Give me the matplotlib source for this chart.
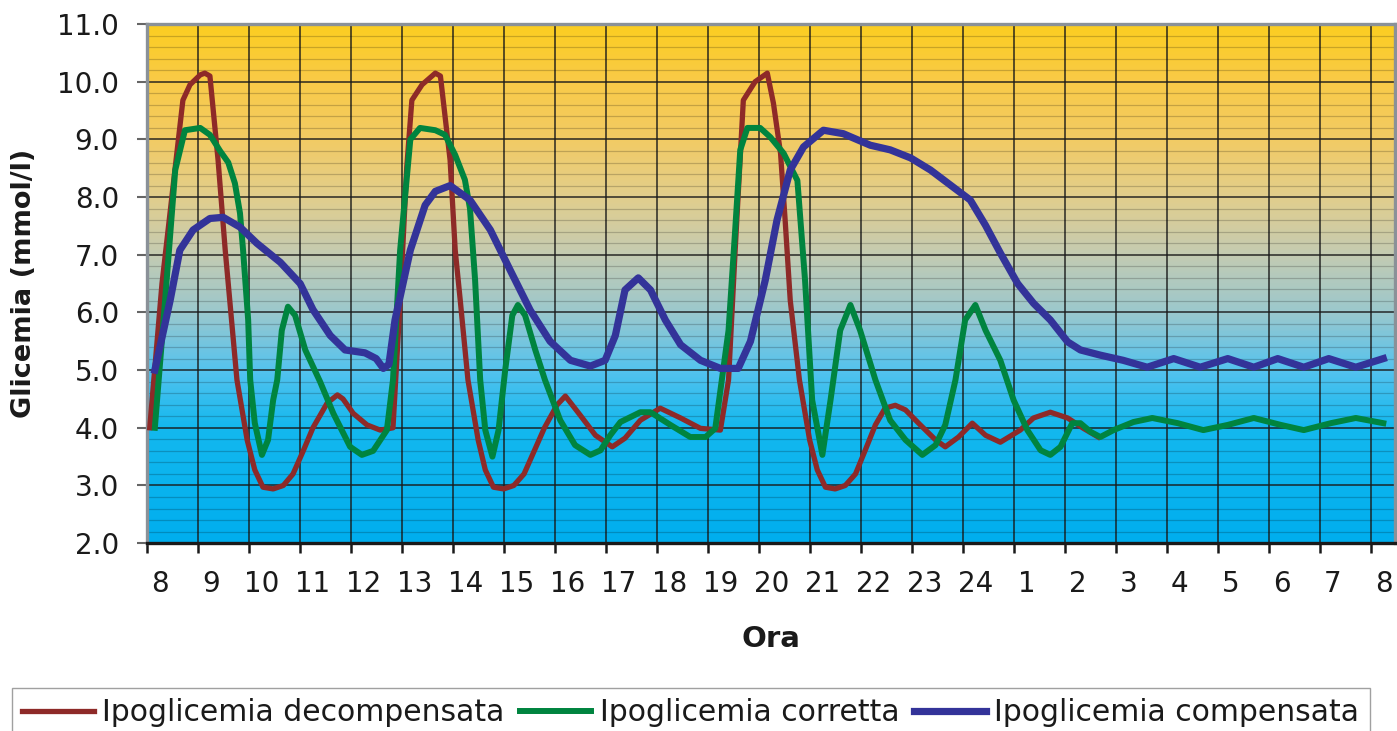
import numpy as np
import matplotlib
matplotlib.use('Agg')
import matplotlib.pyplot as plt
from matplotlib.colors import LinearSegmentedColormap
from matplotlib.ticker import MultipleLocator

# etichette dell'asse orario (dalle 8 alle 8 del giorno dopo)
ore = ['8', '9', '10', '11', '12', '13', '14', '15', '16', '17', '18', '19', '20',
       '21', '22', '23', '24', '1', '2', '3', '4', '5', '6', '7', '8']

# ore trascorse dalle 8:00 e glicemia (mmol/l)
decomp_h = [0.06, 0.30, 0.56, 0.71, 0.85, 1.05, 1.14, 1.24, 1.40, 1.54, 1.63, 1.77, 1.97,
            2.12, 2.28, 2.48, 2.68, 2.87, 3.07, 3.26, 3.54, 3.74, 3.85, 4.05, 4.32, 4.58,
            4.83, 4.97, 5.10, 5.20, 5.40, 5.66, 5.76, 5.95, 6.05, 6.15, 6.30, 6.50, 6.64,
            6.80, 7.00, 7.20, 7.40, 7.60, 7.80, 8.05, 8.21, 8.50, 8.80, 9.13, 9.38, 9.68,
            10.07, 10.47, 10.86, 11.25, 11.41, 11.54, 11.70, 11.93, 12.17, 12.29, 12.43,
            12.52, 12.62, 12.80, 13.00, 13.15, 13.31, 13.50, 13.70, 13.90, 14.09, 14.29,
            14.48, 14.68, 14.88, 15.17, 15.47, 15.66, 15.92, 16.19, 16.45, 16.74, 17.13,
            17.39, 17.72, 18.06, 18.37, 18.66]
decomp_v = [4.00, 6.50, 8.52, 9.68, 9.95, 10.12, 10.15, 10.10, 8.64, 7.08, 6.20, 4.83, 3.79,
            3.27, 2.97, 2.94, 3.00, 3.20, 3.60, 4.00, 4.43, 4.57, 4.50, 4.25, 4.05, 3.96,
            4.00, 6.20, 8.52, 9.68, 9.95, 10.15, 10.10, 8.64, 7.08, 6.20, 4.83, 3.79, 3.27,
            2.97, 2.94, 3.00, 3.20, 3.60, 4.00, 4.40, 4.55, 4.22, 3.87, 3.67, 3.82, 4.13,
            4.34, 4.17, 3.99, 3.96, 4.83, 7.08, 9.68, 10.00, 10.15, 9.63, 8.76,
            7.60, 6.21, 4.83, 3.79, 3.27, 2.97, 2.94, 3.00, 3.20, 3.61, 4.05,
            4.34, 4.39, 4.31, 4.05, 3.79, 3.67, 3.84, 4.08, 3.87, 3.75, 3.96,
            4.17, 4.27, 4.17, 3.99, 3.84]

corretta_h = [0.16, 0.36, 0.56, 0.75, 1.05, 1.24, 1.44, 1.60, 1.73, 1.83, 1.89, 1.99, 2.03,
              2.12, 2.26, 2.38, 2.48, 2.56, 2.65, 2.77, 2.91, 3.11, 3.40, 3.66, 3.99, 4.22,
              4.44, 4.71, 4.83, 4.97, 5.17, 5.36, 5.66, 5.85, 6.05, 6.24, 6.34, 6.44, 6.54,
              6.64, 6.78, 6.90, 7.03, 7.17, 7.28, 7.42, 7.62, 7.81, 8.11, 8.40, 8.70, 8.90,
              9.09, 9.29, 9.68, 9.88, 10.27, 10.66, 10.96, 11.15, 11.41, 11.54, 11.64, 11.78,
              12.03, 12.23, 12.49, 12.76, 12.82, 12.91, 13.05, 13.25, 13.41, 13.60, 13.80,
              13.99, 14.29, 14.58, 14.88, 15.21, 15.47, 15.66, 15.86, 16.05, 16.25, 16.45,
              16.74, 17.00, 17.27, 17.53, 17.72, 17.92, 18.15, 18.31, 18.51, 18.70, 18.96,
              19.35, 19.72, 20.22, 20.72, 21.20, 21.71, 22.24, 22.69, 23.22, 23.71, 24.25]
corretta_v = [4.00, 6.20, 8.47, 9.16, 9.20, 9.08, 8.80, 8.60, 8.24, 7.72, 7.08, 5.87, 4.83,
              4.08, 3.53, 3.79, 4.48, 4.83, 5.69, 6.10, 5.95, 5.35, 4.80, 4.25, 3.67, 3.53,
              3.60, 3.96, 4.83, 7.08, 9.00, 9.20, 9.16, 9.08, 8.73, 8.30, 7.80, 6.56, 4.83,
              3.96, 3.50, 3.96, 5.00, 5.95, 6.13, 5.95, 5.35, 4.83, 4.13, 3.70, 3.53, 3.61,
              3.87, 4.10, 4.27, 4.27, 4.05, 3.84, 3.84, 3.99, 5.69, 7.43, 8.82, 9.20,
              9.20, 9.04, 8.76, 8.29, 7.60, 6.56, 4.48, 3.53, 4.48, 5.69, 6.13,
              5.69, 4.83, 4.13, 3.79, 3.53, 3.70, 4.05, 4.83, 5.87, 6.13, 5.69,
              5.17, 4.48, 3.96, 3.61, 3.53, 3.67, 4.08, 4.08, 3.93, 3.84, 3.96,
              4.10, 4.17, 4.08, 3.96, 4.05, 4.17, 4.05, 3.96, 4.08, 4.17, 4.08]

comp_h = [0.16, 0.46, 0.65, 0.91, 1.24, 1.50, 1.83, 2.16, 2.62, 3.01, 3.26, 3.60, 3.89, 4.28,
          4.50, 4.64, 4.75, 4.87, 5.17, 5.46, 5.66, 5.95, 6.34, 6.74, 7.13, 7.52, 7.91, 8.31,
          8.70, 8.99, 9.19, 9.38, 9.64, 9.88, 10.17, 10.47, 10.86, 11.25, 11.60, 11.84, 12.13,
          12.36, 12.62, 12.88, 13.27, 13.66, 14.19, 14.58, 14.98, 15.37, 15.76, 16.15, 16.45,
          16.74, 17.08, 17.39, 17.72, 18.06, 18.31, 18.70, 19.15, 19.62, 20.14, 20.66, 21.20,
          21.71, 22.18, 22.69, 23.18, 23.71, 24.25]
comp_v = [5.00, 6.21, 7.08, 7.43, 7.63, 7.65, 7.48, 7.20, 6.87, 6.50, 6.05, 5.60, 5.35, 5.30,
          5.20, 5.03, 5.10, 5.87, 7.08, 7.86, 8.10, 8.20, 7.95, 7.43, 6.73, 6.04, 5.50, 5.17,
          5.07, 5.17, 5.60, 6.39, 6.60, 6.39, 5.87, 5.44, 5.17, 5.03, 5.03, 5.50, 6.56,
          7.60, 8.47, 8.87, 9.16, 9.10, 8.90, 8.82, 8.68, 8.47, 8.21, 7.95, 7.51,
          7.03, 6.50, 6.16, 5.87, 5.49, 5.35, 5.26, 5.17, 5.05, 5.20, 5.05, 5.20,
          5.05, 5.20, 5.05, 5.20, 5.05, 5.20]

# sfumatura dello sfondo, dal blu (in basso) al giallo (in alto)
sfondo = LinearSegmentedColormap.from_list('sfondo', [
    (0.000, (0 / 255, 174 / 255, 239 / 255)),
    (0.222, (20 / 255, 184 / 255, 238 / 255)),
    (0.333, (85 / 255, 195 / 255, 238 / 255)),
    (0.444, (155 / 255, 200 / 255, 205 / 255)),
    (0.556, (196 / 255, 203 / 255, 178 / 255)),
    (0.667, (226 / 255, 206 / 255, 140 / 255)),
    (0.778, (242 / 255, 203 / 255, 100 / 255)),
    (0.889, (249 / 255, 202 / 255, 72 / 255)),
    (1.000, (252 / 255, 206 / 255, 32 / 255)),
])

xmax = 24.48

fig = plt.figure(figsize=(13.97, 7.31), dpi=100)
ax = fig.add_axes([0.105, 0.257, 0.8936, 0.71])

grad = np.linspace(2, 11, 400).reshape(-1, 1)
ax.imshow(grad, extent=[0, xmax, 2, 11], origin='lower', aspect='auto',
          cmap=sfondo, vmin=2, vmax=11, zorder=0)

ax.plot(decomp_h, decomp_v, color='#8e2a28', lw=3.8, solid_joinstyle='round',
        label='Ipoglicemia decompensata', zorder=3)
ax.plot(corretta_h, corretta_v, color='#00843f', lw=4.3, solid_joinstyle='round',
        label='Ipoglicemia corretta', zorder=4)
ax.plot(comp_h, comp_v, color='#333399', lw=5.2, solid_joinstyle='round',
        label='Ipoglicemia compensata', zorder=5)

ax.set_xlim(0, xmax)
ax.set_ylim(2, 11)

# assi e griglia
ax.set_xticks(range(0, 25))
ax.set_xticklabels([])
ax.set_xticks([k + 0.26 for k in range(len(ore))], ore, minor=True)
ax.tick_params(axis='x', which='major', length=7, width=1.8, color='#1a1a1a', direction='out')
ax.tick_params(axis='x', which='minor', length=0, pad=19, labelsize=20, labelcolor='#1a1a1a')

ax.yaxis.set_major_locator(MultipleLocator(1))
ax.yaxis.set_minor_locator(MultipleLocator(0.2))
ax.yaxis.set_major_formatter('{x:.1f}')
ax.tick_params(axis='y', which='major', length=7, width=1.5, color='#666666',
               pad=13, labelsize=20, labelcolor='#1a1a1a')
ax.tick_params(axis='y', which='minor', length=0)

ax.grid(which='major', color='#1a1a1a', lw=1.2, alpha=0.85, zorder=1)
ax.grid(which='minor', axis='y', color='#000000', lw=0.9, alpha=0.2, zorder=1)

for s in ['left', 'top', 'right']:
    ax.spines[s].set_color('#8a9198')
    ax.spines[s].set_linewidth(2.4)
ax.spines['bottom'].set_color('#1a1a1a')
ax.spines['bottom'].set_linewidth(2.4)

ax.set_xlabel('Ora', fontsize=21, fontweight='bold', labelpad=20, color='#1a1a1a')
ax.set_ylabel('Glicemia (mmol/l)', fontsize=19.5, fontweight='bold', color='#1a1a1a')
ax.yaxis.set_label_coords(-0.088, 0.5)

leg = fig.legend(loc='upper left', bbox_to_anchor=(12 / 1397, 1 - 688 / 731),
                 ncol=3, fontsize=21.5, frameon=True, fancybox=False,
                 borderaxespad=0, borderpad=0.35, handlelength=2.4,
                 handletextpad=0.28, columnspacing=0.5)
leg.get_frame().set_edgecolor('#888888')
leg.get_frame().set_linewidth(1.0)
for t in leg.get_texts():
    t.set_color('#1a1a1a')

fig.savefig('out.png', dpi=100)
